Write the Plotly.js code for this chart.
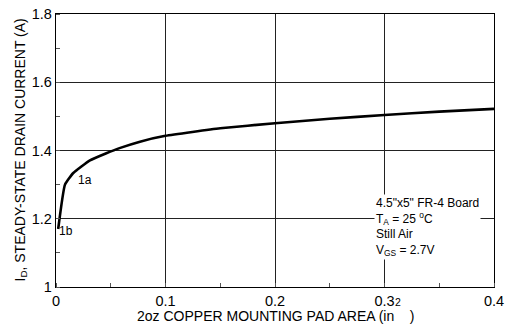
<!DOCTYPE html>
<html><head><meta charset="utf-8">
<script src="https://cdn.plot.ly/plotly-3.0.1.min.js"></script>
<style>body{margin:0;background:#fff}#c{width:512px;height:327px}</style>
</head><body><div id="c"></div>
<script>
const padArea = [0.002, 0.0082, 0.0158, 0.031, 0.046, 0.058, 0.0767, 0.1, 0.15, 0.2, 0.25, 0.3, 0.35, 0.4];
const drainCurrent = [1.170, 1.300, 1.334, 1.371, 1.392, 1.407, 1.426, 1.443, 1.465, 1.480, 1.493, 1.504, 1.514, 1.522];
const xTicks = [0, 0.1, 0.2, 0.3, 0.4];
const xTickText = ['0', '0.1', '0.2', '0.3', '0.4'];
const yTicks = [1, 1.2, 1.4, 1.6, 1.8];
const yTickText = ['1', '1.2', '1.4', '1.6', '1.8'];

const F = 'Liberation Sans, Arial, sans-serif';
const W = 438, H = 273, L = 56, T = 14;
const px = v => (v - L) / W;
const py = v => (T + H - v) / H;
const trace = {x: padArea, y: drainCurrent, mode: 'lines', line: {color: '#000', width: 2.6, shape: 'spline', smoothing: 0.4}, hoverinfo: 'skip'};
const ax = {showline: true, linecolor: '#000', linewidth: 1.2, mirror: true, gridcolor: '#222', gridwidth: 1, zeroline: false,
  ticks: '', tickfont: {family: F, size: 14.5, color: '#000'}};
const layout = {
  width: 512, height: 327, margin: {l: 56, r: 18, t: 14, b: 40},
  paper_bgcolor: '#fff', plot_bgcolor: '#fff', showlegend: false,
  xaxis: Object.assign({}, ax, {range: [0, 0.4], tickvals: xTicks, ticktext: xTickText,
    minor: {dtick: 0.05, ticks: 'inside', ticklen: 4, tickcolor: '#555', showgrid: false}}),
  yaxis: Object.assign({}, ax, {range: [1, 1.8], tickvals: yTicks, ticktext: yTickText,
    minor: {dtick: 0.1, ticks: 'inside', ticklen: 4, tickcolor: '#555', showgrid: false}}),
  annotations: [
    {x: px(275), y: py(316), xref: 'paper', yref: 'paper', xanchor: 'center', yanchor: 'middle', showarrow: false,
      text: '2oz COPPER MOUNTING PAD AREA (in&nbsp;&nbsp;&nbsp;&nbsp;)', font: {family: F, size: 14, color: '#000'}},
    {x: px(20), y: 0.5, xref: 'paper', yref: 'paper', xanchor: 'center', yanchor: 'middle', showarrow: false, textangle: -90,
      text: 'I<sub>D</sub>, STEADY-STATE DRAIN CURRENT (A)', font: {family: F, size: 14, color: '#000'}},
    {x: px(398), y: py(302), xref: 'paper', yref: 'paper', xanchor: 'center', yanchor: 'middle', showarrow: false,
      text: '2', font: {family: F, size: 10.5, color: '#000'}},
    {x: 0.0185, y: 1.315, xref: 'x', yref: 'y', text: '1a', showarrow: false, xanchor: 'left', font: {family: F, size: 12, color: '#000'}},
    {x: 0.001, y: 1.165, xref: 'x', yref: 'y', text: '1b', showarrow: false, xanchor: 'left', yanchor: 'middle', font: {family: F, size: 12, color: '#000'}},
    {x: 0.2905, y: 1.274, xref: 'x', yref: 'y', align: 'left', xanchor: 'left', yanchor: 'top', showarrow: false, bgcolor: '#fff',
      text: '4.5"x5" FR-4 Board<br>T<sub>A</sub> = 25 <sup>o</sup>C<br>Still Air<br>V<sub>GS</sub> = 2.7V',
      font: {family: F, size: 12, color: '#000'}}
  ]
};
Plotly.newPlot('c', [trace], layout, {staticPlot: true, displayModeBar: false});
</script></body></html>
